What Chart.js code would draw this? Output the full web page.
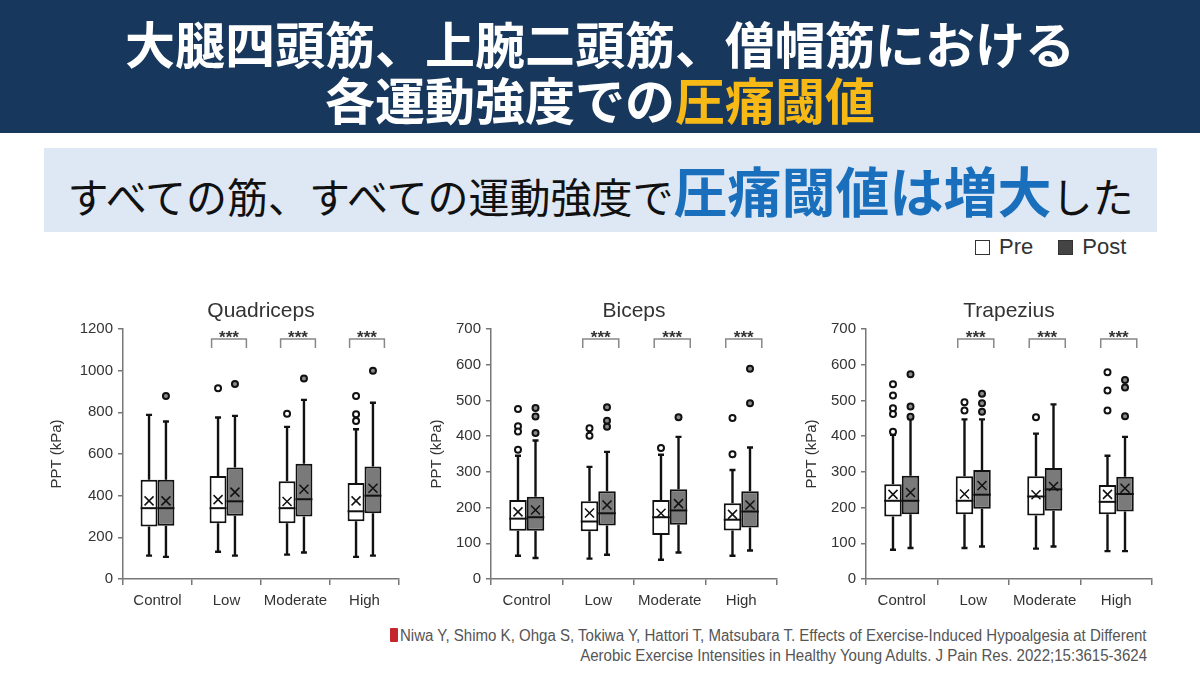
<!DOCTYPE html>
<html lang="ja">
<head>
<meta charset="UTF-8">
<title>圧痛閾値</title>
<style>
    body {
        margin: 0;
        width: 1200px;
        height: 675px;
        position: relative;
        background: #ffffff;
        overflow: hidden;
        font-family: "Liberation Sans", Arial, sans-serif;
    }
    .band {
        position: absolute;
        left: 0; top: 0;
        width: 1200px; height: 133px;
        background: #17375c;
    }
    .band div {
        position: absolute;
        left: 0; width: 1200px;
        text-align: center;
        color: #ffffff;
        font-family: "Noto Sans CJK JP", sans-serif;
        font-weight: 700;
        font-size: 50px;
        line-height: 56px;
    }
    .hl { color: #f6b915; }
    .sub {
        position: absolute;
        left: 44px; top: 148px;
        width: 1113px; height: 84px;
        background: #dde8f4;
        text-align: center;
        font-family: "Noto Sans CJK JP", sans-serif;
        font-size: 41px;
        line-height: 84px;
        color: #111;
        white-space: nowrap;
    }
    .sub b {
        color: #1a6fbd;
        font-size: 54px;
        font-weight: 700;
    }
    .legend {
        position: absolute;
        top: 235px; left: 975px;
        font-size: 22px;
        color: #333;
        line-height: 24px;
    }
    .legend span.sw {
        display: inline-block;
        width: 13px; height: 13px;
        border: 1.5px solid #333;
        vertical-align: -1px;
        margin-right: 9px;
    }
    .panel { position: absolute; top: 295px; width: 370px; height: 320px; }
    .cite {
        position: absolute;
        font-size: 16px;
        color: #555;
        white-space: nowrap;
        transform: scaleX(0.94);
    }
    .book {
        position: absolute;
        left: 390px; top: 628px;
        width: 8px; height: 14px;
        background: #c4262e;
        border-radius: 1px;
    }
</style>
<script src="https://cdn.jsdelivr.net/npm/chart.js"></script>
</head>
<body>

<div class="band">
    <div style="top:14px">大腿四頭筋、上腕二頭筋、僧帽筋における</div>
    <div style="top:70px">各運動強度での<span class="hl">圧痛閾値</span></div>
</div>

<div class="sub">すべての筋、すべての運動強度で<b>圧痛閾値は増大</b>した</div>

<div class="legend">
    <span class="sw" style="background:#fff"></span>Pre
    <span class="sw" style="background:#444; margin-left:19px"></span>Post
</div>

<div class="panel" style="left:40px"><canvas id="quad"></canvas></div>
<div class="panel" style="left:420px"><canvas id="bic"></canvas></div>
<div class="panel" style="left:795px"><canvas id="trap"></canvas></div>

<div class="book"></div>
<div class="cite" style="left:400px; top:627px; transform-origin: left top">Niwa Y, Shimo K, Ohga S, Tokiwa Y, Hattori T, Matsubara T. Effects of Exercise-Induced Hypoalgesia at Different</div>
<div class="cite" style="right:53px; top:647px; transform-origin: right top">Aerobic Exercise Intensities in Healthy Young Adults. J Pain Res. 2022;15:3615-3624</div>

<script>
    // Categories (exercise intensity)
    const categories = ['Control', 'Low', 'Moderate', 'High'];
    const significant = [false, true, true, true];

    // Each row: [min, q1, median, q3, max, mean]  (kPa)
    const quadPre  = [[112, 252, 340, 476, 788, 375], [131, 268, 340, 495, 775, 381], [117, 268, 340, 469, 730, 372], [106, 277, 325, 461, 719, 375]];
    const quadPost = [[106, 256, 340, 476, 756, 375], [112, 304, 373, 535, 783, 417], [127, 300, 383, 553, 860, 431], [112, 316, 400, 540, 846, 436]];
    const quadPreOut  = [[], [916], [793], [878, 791, 758]];
    const quadPostOut = [[878], [936], [963], [1000]];

    const bicPre  = [[65, 135, 169, 221, 345, 188], [57, 134, 161, 218, 314, 185], [54, 123, 173, 221, 348, 184], [65, 136, 166, 212, 305, 181]];
    const bicPost = [[59, 135, 173, 230, 388, 193], [68, 150, 184, 246, 356, 207], [74, 152, 192, 251, 398, 211], [80, 144, 189, 246, 368, 207]];
    const bicPreOut  = [[476, 428, 413, 362], [422, 401], [367], [451, 349]];
    const bicPostOut = [[479, 455, 409], [481, 443, 426], [453], [589, 492]];

    const trapPre  = [[82, 175, 219, 265, 404, 237], [87, 181, 219, 288, 447, 238], [85, 178, 231, 288, 407, 236], [78, 181, 216, 263, 345, 237]];
    const trapPost = [[87, 181, 219, 289, 448, 242], [91, 197, 236, 305, 447, 262], [91, 191, 251, 311, 489, 259], [78, 189, 238, 286, 398, 254]];
    const trapPreOut  = [[545, 514, 478, 462, 412], [495, 472], [453], [579, 528, 472]];
    const trapPostOut = [[573, 483, 454], [519, 492, 468], [], [557, 536, 456]];

    const ink = '#111';
    const postFill = '#7a7a7a';

    // draws whiskers, medians, means, outliers, brackets and the panel title
    const boxExtras = {
        id: 'boxExtras',
        beforeDatasetsDraw(chart, args, opts) {
            const ctx = chart.ctx, y = chart.scales.y;
            ctx.save();
            ctx.strokeStyle = ink;
            ctx.lineWidth = 2.4;
            opts.stats.forEach((rows, d) => {
                const meta = chart.getDatasetMeta(d);
                rows.forEach((r, i) => {
                    const x = meta.data[i].x;
                    ctx.beginPath();
                    ctx.moveTo(x, y.getPixelForValue(r[4]));
                    ctx.lineTo(x, y.getPixelForValue(r[3]));
                    ctx.moveTo(x, y.getPixelForValue(r[1]));
                    ctx.lineTo(x, y.getPixelForValue(r[0]));
                    // caps
                    ctx.moveTo(x - 3, y.getPixelForValue(r[4]));
                    ctx.lineTo(x + 3, y.getPixelForValue(r[4]));
                    ctx.moveTo(x - 3, y.getPixelForValue(r[0]));
                    ctx.lineTo(x + 3, y.getPixelForValue(r[0]));
                    ctx.stroke();
                });
            });
            ctx.restore();
        },
        afterDatasetsDraw(chart, args, opts) {
            const ctx = chart.ctx, y = chart.scales.y, area = chart.chartArea;
            ctx.save();
            opts.stats.forEach((rows, d) => {
                const meta = chart.getDatasetMeta(d);
                rows.forEach((r, i) => {
                    const el = meta.data[i];
                    const x = el.x, hw = el.width / 2;
                    // median
                    ctx.strokeStyle = ink;
                    ctx.lineWidth = 2;
                    ctx.beginPath();
                    ctx.moveTo(x - hw, y.getPixelForValue(r[2]));
                    ctx.lineTo(x + hw, y.getPixelForValue(r[2]));
                    ctx.stroke();
                    // mean
                    const my = y.getPixelForValue(r[5]);
                    ctx.lineWidth = 1.5;
                    ctx.beginPath();
                    ctx.moveTo(x - 4.5, my - 4.5); ctx.lineTo(x + 4.5, my + 4.5);
                    ctx.moveTo(x - 4.5, my + 4.5); ctx.lineTo(x + 4.5, my - 4.5);
                    ctx.stroke();
                    // outliers
                    ctx.lineWidth = 2;
                    ctx.fillStyle = d === 0 ? '#ffffff' : '#8a8a8a';
                    opts.outliers[d][i].forEach(v => {
                        ctx.beginPath();
                        ctx.arc(x, y.getPixelForValue(v), 3, 0, Math.PI * 2);
                        ctx.fill();
                        ctx.stroke();
                    });
                });
            });
            // significance brackets
            const pre = chart.getDatasetMeta(0), post = chart.getDatasetMeta(1);
            significant.forEach((s, i) => {
                if (!s) return;
                const x0 = pre.data[i].x - pre.data[i].width / 2 + 2;
                const x1 = post.data[i].x + post.data[i].width / 2 + 3;
                const top = area.top + 10;
                ctx.strokeStyle = '#888';
                ctx.lineWidth = 1.5;
                ctx.beginPath();
                ctx.moveTo(x0, top + 9); ctx.lineTo(x0, top);
                ctx.lineTo(x1, top); ctx.lineTo(x1, top + 9);
                ctx.stroke();
                ctx.fillStyle = '#333';
                ctx.font = 'bold 17px "Liberation Sans"';
                ctx.textAlign = 'center';
                ctx.textBaseline = 'middle';
                ctx.fillText('***', (x0 + x1) / 2, top - 1);
            });
            // panel title over the plot area
            ctx.fillStyle = '#333';
            ctx.font = '21px "Liberation Sans"';
            ctx.textAlign = 'center';
            ctx.textBaseline = 'middle';
            ctx.fillText(opts.title, (area.left + area.right) / 2, area.top - 18);
            ctx.restore();
        }
    };

    function makePanel(id, title, pre, post, preOut, postOut, yMax, step, leftW, rightPad) {
        return new Chart(document.getElementById(id), {
            type: 'bar',
            data: {
                labels: categories,
                datasets: [
                    { label: 'Pre', data: pre.map(r => [r[1], r[3]]), backgroundColor: '#ffffff' },
                    { label: 'Post', data: post.map(r => [r[1], r[3]]), backgroundColor: postFill }
                ]
            },
            options: {
                responsive: true,
                maintainAspectRatio: false,
                animation: false,
                layout: { padding: { top: 34, right: rightPad, left: 0, bottom: 0 } },
                datasets: {
                    bar: {
                        borderColor: ink,
                        borderWidth: 2,
                        borderSkipped: false,
                        categoryPercentage: 0.49,
                        barPercentage: 1.0
                    }
                },
                scales: {
                    x: {
                        offset: true,
                        grid: { offset: true, drawOnChartArea: false, tickLength: 6, color: '#777', lineWidth: 1.5 },
                        border: { color: '#777', width: 1.5 },
                        ticks: {
                            color: '#333', font: { family: 'Liberation Sans', size: 15 }, padding: 7,
                            autoSkip: false, maxRotation: 0, minRotation: 0
                        },
                        afterFit: s => { s.height = 36; }
                    },
                    y: {
                        min: 0,
                        max: yMax,
                        ticks: {
                            stepSize: step, color: '#333', font: { family: 'Liberation Sans', size: 15 }, padding: 5,
                            callback: v => String(v)
                        },
                        grid: { drawOnChartArea: false, tickLength: 5, color: '#777', lineWidth: 1.5 },
                        border: { color: '#777', width: 1.5 },
                        title: { display: true, text: 'PPT (kPa)', color: '#333', font: { family: 'Liberation Sans', size: 15 }, padding: { top: 8, bottom: 0 } },
                        afterFit: s => { s.width = leftW; }
                    }
                },
                plugins: {
                    legend: { display: false },
                    tooltip: { enabled: false },
                    boxExtras: { title: title, stats: [pre, post], outliers: [preOut, postOut] }
                }
            },
            plugins: [boxExtras]
        });
    }

    makePanel('quad', 'Quadriceps', quadPre, quadPost, quadPreOut, quadPostOut, 1200, 200, 83, 11);
    makePanel('bic', 'Biceps', bicPre, bicPost, bicPreOut, bicPostOut, 700, 100, 71, 13);
    makePanel('trap', 'Trapezius', trapPre, trapPost, trapPreOut, trapPostOut, 700, 100, 71, 13);
</script>
</body>
</html>
